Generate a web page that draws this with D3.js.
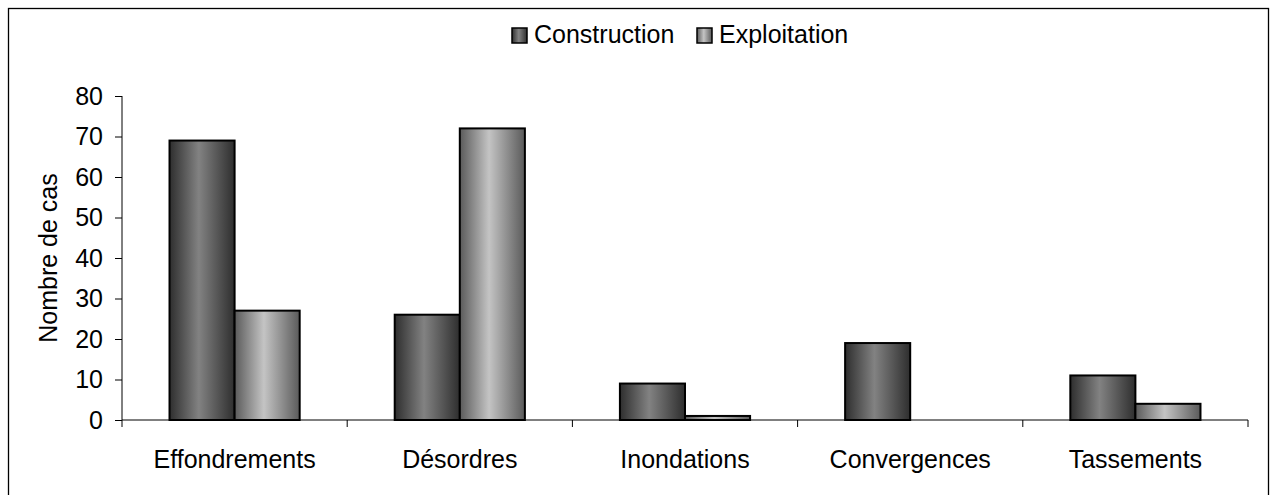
<!DOCTYPE html>
<head>
    <meta charset="utf-8">
    <style type="text/css">
    body { margin: 0; background: white; }
    text { font-family: "Liberation Sans", Arial, sans-serif; }
    </style>
</head>
<body>
    <div id="my_dataviz"></div>
    <script src="https://d3js.org/d3.v7.min.js"></script>
    <script type="text/javascript">

    // data
    var categories = ["Effondrements", "Désordres", "Inondations", "Convergences", "Tassements"];
    var series = ["Construction", "Exploitation"];
    var construction = [69, 26, 9, 19, 11];
    var exploitation = [27, 72, 1, 0, 4];
    var yTicks = [0, 10, 20, 30, 40, 50, 60, 70, 80];

    var W = 1272, H = 495;
    var svg = d3.select("#my_dataviz")
      .append("svg")
        .attr("width", W)
        .attr("height", H);

    // gradients, dark and light
    var defs = svg.append("defs");
    var grads = {
      "Construction": ["#2e2e2e", "#828282"],
      "Exploitation": ["#5a5a5a", "#c4c4c4"]
    };
    series.forEach(function(s) {
      var g = defs.append("linearGradient")
        .attr("id", "grad-" + s)
        .attr("x1", "0%").attr("x2", "100%").attr("y1", "0%").attr("y2", "0%");
      g.append("stop").attr("offset", "0%").attr("stop-color", grads[s][0]);
      g.append("stop").attr("offset", "45%").attr("stop-color", grads[s][1]);
      g.append("stop").attr("offset", "100%").attr("stop-color", grads[s][0]);
    });

    // outer frame
    svg.append("rect")
      .attr("x", 8.5).attr("y", 8.5)
      .attr("width", 1260).attr("height", 500)
      .attr("fill", "none")
      .attr("stroke", "black")
      .attr("stroke-width", 1.3);

    var pLeft = 122, pRight = 1248, pTop = 96, pBottom = 420;

    var x = d3.scaleBand()
      .domain(categories)
      .range([pLeft, pRight]);

    var xs = d3.scaleBand()
      .domain(series)
      .range([0, x.bandwidth()])
      .paddingInner(0)
      .paddingOuter(0.73);

    var y = d3.scaleLinear()
      .domain([0, 80])
      .range([pBottom, pTop]);

    // bars
    var data = [];
    categories.forEach(function(c, i) {
      data.push({cat: c, s: "Construction", v: construction[i]});
      data.push({cat: c, s: "Exploitation", v: exploitation[i]});
    });

    svg.append("g")
      .selectAll("rect")
      .data(data.filter(function(d) { return d.v > 0; }))
      .enter()
      .append("rect")
        .attr("x", function(d) { return x(d.cat) + xs(d.s); })
        .attr("y", function(d) { return y(d.v); })
        .attr("width", xs.bandwidth())
        .attr("height", function(d) { return y(0) - y(d.v); })
        .attr("fill", function(d) { return "url(#grad-" + d.s + ")"; })
        .attr("stroke", "black")
        .attr("stroke-width", 2);

    // Y axis
    var yAxis = svg.append("g")
      .attr("transform", "translate(" + pLeft + ",0)")
      .call(d3.axisLeft(y).tickValues(yTicks).tickSize(7).tickPadding(12));
    yAxis.selectAll("text").style("font-size", "25px").attr("fill", "black");
    yAxis.selectAll("line").attr("stroke", "black");
    yAxis.select(".domain").attr("stroke", "black").attr("d", "M0," + pBottom + "V" + pTop);

    // X axis
    var xAxis = svg.append("g")
      .attr("transform", "translate(0," + pBottom + ")");
    xAxis.append("line")
      .attr("x1", pLeft).attr("x2", pRight)
      .attr("stroke", "black");
    xAxis.selectAll("line.tick")
      .data(categories.concat(["end"]))
      .enter()
      .append("line")
        .attr("class", "tick")
        .attr("x1", function(d, i) { return i < categories.length ? x(d) : pRight; })
        .attr("x2", function(d, i) { return i < categories.length ? x(d) : pRight; })
        .attr("y1", 0).attr("y2", 7)
        .attr("stroke", "black");
    xAxis.selectAll("text")
      .data(categories)
      .enter()
      .append("text")
        .attr("x", function(d) { return x(d) + x.bandwidth() / 2; })
        .attr("y", 48)
        .attr("text-anchor", "middle")
        .style("font-size", "25px")
        .text(function(d) { return d; });

    // Y label
    svg.append("text")
      .attr("transform", "translate(57,258) rotate(-90)")
      .attr("text-anchor", "middle")
      .style("font-size", "25px")
      .text("Nombre de cas");

    // legend
    var leg = svg.append("g");
    series.forEach(function(s, i) {
      var lx = i === 0 ? 512 : 697;
      leg.append("rect")
        .attr("x", lx).attr("y", 28)
        .attr("width", 15).attr("height", 15)
        .attr("fill", "url(#grad-" + s + ")")
        .attr("stroke", "black")
        .attr("stroke-width", 1.5);
      leg.append("text")
        .attr("x", lx + 22).attr("y", 43)
        .style("font-size", "25px")
        .text(s);
    });

    </script>
</body>
